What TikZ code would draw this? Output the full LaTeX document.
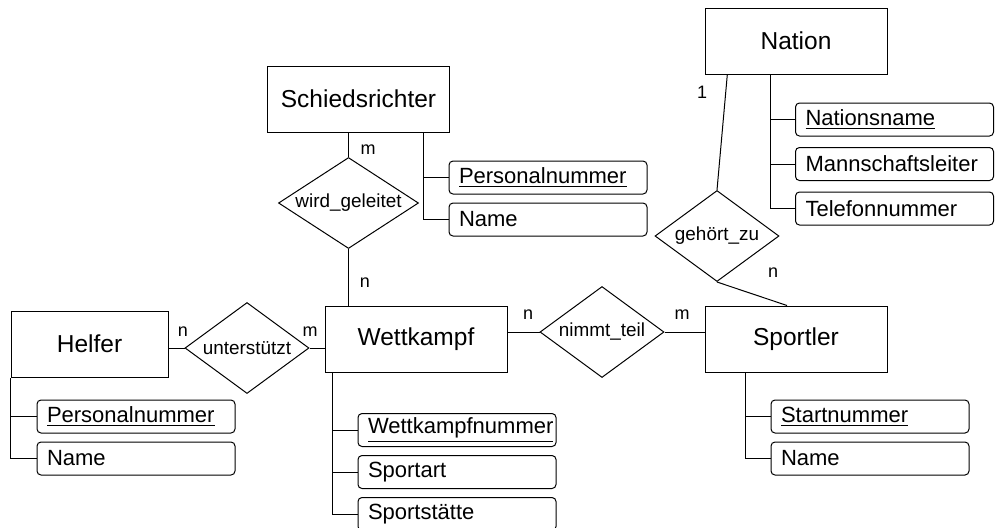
\documentclass[tikz,border=0pt]{standalone}
\usepackage{fontspec}
\setmainfont{Liberation Sans}
\usetikzlibrary{shapes,chains,positioning}

\tikzset{
  entity/.style={draw,rectangle,minimum width=91pt,minimum height=33pt,inner sep=0pt,font=\fontsize{12.25}{14}\selectfont},
  relation/.style={draw,diamond,aspect=1.5,minimum width=62pt,minimum height=45.5pt,inner sep=0pt,font=\fontsize{9.45}{11}\selectfont},
  attr/.style={draw,rectangle,rounded corners=2pt,minimum height=16.5pt,inner xsep=5pt,inner ysep=0pt,text width=89pt,align=left,font=\fontsize{11}{13}\selectfont},
  card/.style={inner sep=0pt,font=\fontsize{9}{11}\selectfont},
}

\begin{document}
\begin{tikzpicture}[x=0.5pt,y=-0.5pt,line width=0.5pt]
\useasboundingbox (0,0) rectangle (995,527);

% entities
\node [entity] (schied) at (358.5,99) {Schiedsrichter};
\node [entity] (nation) at (796,41) {Nation};
\node [entity,minimum width=78.5pt] (helfer) at (89.5,344) {Helfer};
\node [entity] (wett) at (416,339) {Wettkampf};
\node [entity] (sport) at (796,339) {Sportler};

% relationships
\node [relation,minimum width=70pt] (geleitet) at (348.5,203) {wird\_geleitet};
\node [relation] (gehoert) at (717,236) {gehört\_zu};
\node [relation] (unterst) at (247,348) {unterstützt};
\node [relation] (teil) at (602,332) {nimmt\_teil};

% attributes
\begin{scope}[shift={(548,177.5)},start chain=going below,node distance=4pt]
\def\srattr{1/{\underline{Personalnummer}},2/{Name}}
\foreach \i / \element in \srattr
  \node [attr,on chain] (sr\i) {\element};
\end{scope}

\begin{scope}[shift={(894.5,119.5)},start chain=going below,node distance=5.25pt]
\def\naattr{1/{\underline{Nationsname}},2/{Mannschaftsleiter},3/{Telefonnummer}}
\foreach \i / \element in \naattr
  \node [attr,on chain] (na\i) {\element};
\end{scope}

\begin{scope}[shift={(136,416.5)},start chain=going below,node distance=4pt]
\def\heattr{1/{\underline{Personalnummer}},2/{Name}}
\foreach \i / \element in \heattr
  \node [attr,on chain] (he\i) {\element};
\end{scope}

\begin{scope}[shift={(457,430)},start chain=going below,node distance=4pt]
\def\weattr{1/{\underline{Wettkampfnummer}},2/{Sportart},3/{Sportstätte}}
\foreach \i / \element in \weattr
  \node [attr,on chain] (we\i) {\element};
\end{scope}

\begin{scope}[shift={(870,416.5)},start chain=going below,node distance=4pt]
\def\spattr{1/{\underline{Startnummer}},2/{Name}}
\foreach \i / \element in \spattr
  \node [attr,on chain] (sp\i) {\element};
\end{scope}

% attribute stems
\foreach \a in {sr1,sr2}
  \draw (\a.west) -- ++(-12.5pt,0) coordinate (stem) -- (stem |- schied.south);
\foreach \a in {na1,na2,na3}
  \draw (\a.west) -- ++(-12.5pt,0) coordinate (stem) -- (stem |- nation.south);
\foreach \a in {he1,he2}
  \draw (\a.west) -- ++(-13pt,0) coordinate (stem) -- (stem |- helfer.south);
\foreach \a in {we1,we2,we3}
  \draw (\a.west) -- ++(-12.5pt,0) coordinate (stem) -- (stem |- wett.south);
\foreach \a in {sp1,sp2}
  \draw (\a.west) -- ++(-12.5pt,0) coordinate (stem) -- (stem |- sport.south);

% relationship lines
\draw (geleitet.north) -- (geleitet.north |- schied.south);
\draw (geleitet.south) -- (geleitet.south |- wett.north);
\draw (unterst.west) -- (unterst.west -| helfer.east);
\draw (unterst.east) -- (unterst.east -| wett.west);
\draw (teil.west) -- (teil.west -| wett.east);
\draw (teil.east) -- (teil.east -| sport.west);
\draw (gehoert.north) -- (nation.206);
\draw (gehoert.south) -- (sport.105);

% cardinalities
\node [card] (c1) at (368,150) {m};
\node [card] (c2) at (365,283) {n};
\node [card] (c3) at (702,92) {1};
\node [card] (c4) at (773,273) {n};
\node [card] (c5) at (183,332) {n};
\node [card] (c6) at (310,332) {m};
\node [card] (c7) at (528,315) {n};
\node [card] (c8) at (682,315) {m};

\end{tikzpicture}
\end{document}
